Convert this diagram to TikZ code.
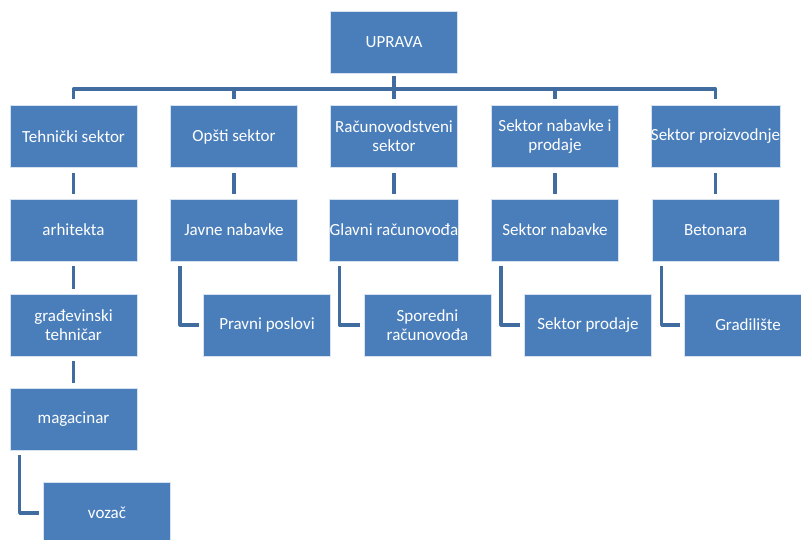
\documentclass[tikz,border=0pt]{standalone}
\usepackage{fontspec}
\setmainfont{Carlito}
\definecolor{boxfill}{RGB}{74,126,187}
\definecolor{boxedge}{RGB}{214,226,240}
\definecolor{linecol}{RGB}{64,108,160}
\begin{document}
\begin{tikzpicture}[x=1pt,y=-1pt,
  orgbox/.style={rectangle,fill=boxfill,draw=boxedge,line width=0.8pt,
    minimum width=127pt,minimum height=62pt,inner sep=0pt,
    text=white,align=center,font=\fontsize{17}{19}\selectfont},
  conn/.style={draw=linecol,line width=3.3pt,line join=round}]
\useasboundingbox (0,0) rectangle (801,539);
% level 0
\node[orgbox] (U) at (394,42) {UPRAVA};
% level 1
\node[orgbox] (T) at (73.5,136.5) {Tehnički sektor};
\node[orgbox] (O) at (234,136.5) {Opšti sektor};
\node[orgbox] (R) at (394,136.5) {Računovodstveni\\sektor};
\node[orgbox] (S) at (555,136.5) {Sektor nabavke i\\prodaje};
\node[orgbox] (P) at (715.5,136.5) {Sektor proizvodnje};
% level 2
\node[orgbox] (A) at (73.5,230) {arhitekta};
\node[orgbox] (J) at (234,230) {Javne nabavke};
\node[orgbox] (G) at (394,230) {Glavni računovođa};
\node[orgbox] (SN) at (555,230) {Sektor nabavke};
\node[orgbox] (B) at (715.5,230) {Betonara};
% level 3
\node[orgbox] (GT) at (73.5,325) {građevinski\\tehničar};
\node[orgbox] (PP) at (267,325) {Pravni poslovi};
\node[orgbox] (SR) at (427.5,325) {Sporedni\\računovođa};
\node[orgbox] (SP) at (588,325) {Sektor prodaje};
\node[orgbox] (GR) at (748,325) {Gradilište};
% level 4,5
\node[orgbox] (M) at (73.5,419) {magacinar};
\node[orgbox] (V) at (107,513) {vozač};
% bus
\coordinate (bus) at (394,89);
\draw[conn] ([yshift=-3pt]U.south) -- (U.south |- bus);
\draw[conn] ([yshift=6pt]T.north) -- (T.north |- bus) -- (P.north |- bus) -- ([yshift=6pt]P.north);
\foreach \n in {O,R,S}{
  \draw[conn] (\n.north |- bus) -- ([yshift=6pt]\n.north);
}
% verticals
\draw[conn,shorten <=5pt,shorten >=5pt] (T.south) -- (A.north);
\draw[conn,shorten <=5pt,shorten >=5pt] (O.south) -- (J.north);
\draw[conn,shorten <=5pt,shorten >=5pt] (R.south) -- (G.north);
\draw[conn,shorten <=5pt,shorten >=5pt] (S.south) -- (SN.north);
\draw[conn,shorten <=5pt,shorten >=5pt] (P.south) -- (B.north);
\draw[conn,shorten <=5pt,shorten >=5pt] (A.south) -- (GT.north);
\draw[conn,shorten <=5pt,shorten >=5pt] (GT.south) -- (M.north);
% elbows
\draw[conn] ([xshift=10pt,yshift=-5pt]J.south west) |- ([xshift=-4pt]PP.west);
\draw[conn] ([xshift=10pt,yshift=-5pt]G.south west) |- ([xshift=-4pt]SR.west);
\draw[conn] ([xshift=10pt,yshift=-5pt]SN.south west) |- ([xshift=-4pt]SP.west);
\draw[conn] ([xshift=10pt,yshift=-5pt]B.south west) |- ([xshift=-4pt]GR.west);
\draw[conn] ([xshift=10pt,yshift=-5pt]M.south west) |- ([xshift=-4pt]V.west);
\end{tikzpicture}
\end{document}
